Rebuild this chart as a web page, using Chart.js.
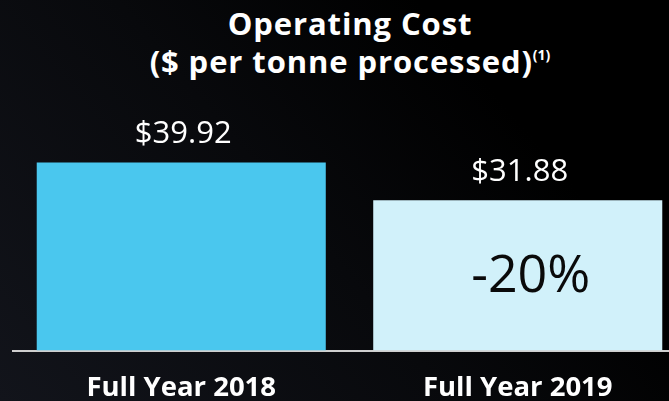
<!DOCTYPE html>
<html>
<head>
<meta charset="utf-8">
<script src="https://cdn.jsdelivr.net/npm/chart.js@4.4.0/dist/chart.umd.min.js"></script>
<style>
  html, body { margin: 0; padding: 0; }
  body {
    width: 669px; height: 401px; overflow: hidden; position: relative;
    background: linear-gradient(50deg, #12141b 0%, #08090c 45%, #000 75%);
  }
  #title {
    position: absolute; left: 0; top: 4px; width: 700px; text-align: center;
    color: #fff; font: bold 31px "Open Sans", sans-serif; line-height: 38px;
    letter-spacing: 0.9px; white-space: nowrap;
  }
  #title sup { font-size: 14px; letter-spacing: 0; vertical-align: 0; position: relative; top: -13px; }
  #wrap { position: absolute; left: 0; top: 0; width: 690px; height: 426px; }
</style>
</head>
<body>
<div id="title">Operating Cost<br>($ per tonne processed)<sup>(1)</sup></div>
<div id="wrap"><canvas id="myChart"></canvas></div>
<script>
const categories = ['Full Year 2018', 'Full Year 2019'];
const costs = [39.92, 31.88];
const valueLabels = ['$39.92', '$31.88'];
const changeLabels = ['', '-20%'];
const barColors = ['#4AC7EE', '#D1F1FA'];

const labelPlugin = {
  id: 'barLabels',
  afterDatasetsDraw(chart) {
    const ctx = chart.ctx;
    const meta = chart.getDatasetMeta(0);
    ctx.save();
    ctx.textAlign = 'center';
    ctx.textBaseline = 'alphabetic';
    meta.data.forEach((bar, i) => {
      ctx.fillStyle = '#fff';
      ctx.font = '31px "Open Sans", sans-serif';
      ctx.fillText(valueLabels[i], bar.x + 2, bar.y - 19);
      if (changeLabels[i]) {
        ctx.fillStyle = '#0a0a0a';
        ctx.font = '52px "Open Sans", sans-serif';
        ctx.fillText(changeLabels[i], bar.x + 13, (bar.y + bar.base) / 2 + 17);
      }
    });
    ctx.restore();
  }
};

function makeChart() {
  const ctx = document.getElementById('myChart').getContext('2d');
  return new Chart(ctx, {
    type: 'bar',
    data: {
      labels: categories,
      datasets: [{
        data: costs,
        backgroundColor: barColors,
        borderWidth: 0,
        categoryPercentage: 1,
        barPercentage: 0.859
      }]
    },
    options: {
      responsive: true,
      maintainAspectRatio: false,
      animation: false,
      layout: { padding: { top: 115, left: 13, right: 4, bottom: 0 } },
      plugins: { legend: { display: false }, tooltip: { enabled: false } },
      scales: {
        x: {
          grid: { display: false, drawTicks: false },
          border: { display: true, color: '#cfcfcf', width: 2 },
          ticks: {
            color: '#fff',
            padding: 24,
            maxRotation: 0,
            autoSkip: false,
            font: { family: '"Open Sans", sans-serif', size: 27.5, weight: 'bold', lineHeight: 1 }
          }
        },
        y: {
          display: false,
          min: 0,
          max: 50
        }
      }
    },
    plugins: [labelPlugin]
  });
}

makeChart();
</script>
</body>
</html>
